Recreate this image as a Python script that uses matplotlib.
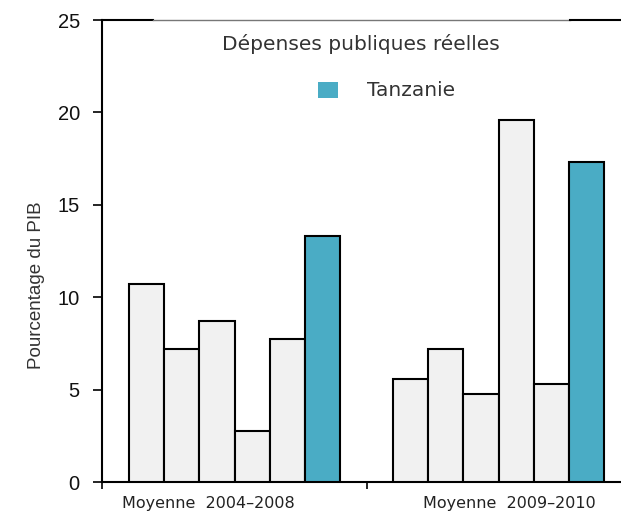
import matplotlib
matplotlib.use("Agg")
import matplotlib.pyplot as plt
from matplotlib.patches import Rectangle
from matplotlib import font_manager

group_labels = ["Moyenne  2004–2008", "Moyenne  2009–2010"]
values_2004_2008 = [10.7, 7.2, 8.7, 2.75, 7.75, 13.3]
values_2009_2010 = [5.6, 7.2, 4.75, 19.6, 5.3, 17.3]
highlight_index = 5  # Tanzanie
title_text = "Dépenses publiques réelles"
legend_label = "Tanzanie"
y_label = "Pourcentage du PIB"
y_ticks = [0, 5, 10, 15, 20, 25]

names = {f.name for f in font_manager.fontManager.ttflist}
tick_font = "Liberation Sans Narrow" if "Liberation Sans Narrow" in names else "Liberation Sans"
tick_size = 17 if tick_font == "Liberation Sans Narrow" else 14.5

grey = "#f1f1f1"
teal = "#4aacc5"

fig = plt.figure(figsize=(6.21, 5.14), dpi=100)
W, H = 621, 514
ax = fig.add_axes([102 / W, (H - 482) / H, (W - 102) / W, (482 - 20) / H])

pos1 = [i for i in range(len(values_2004_2008))]
pos2 = [7.5 + i for i in range(len(values_2009_2010))]
for pos, vals in ((pos1, values_2004_2008), (pos2, values_2009_2010)):
    colors = [teal if i == highlight_index else grey for i in range(len(vals))]
    ax.bar(pos, vals, width=1.0, color=colors, edgecolor="black", linewidth=1.5, zorder=3)

ax.set_xlim(-1.27, 13.48)
ax.set_ylim(0, 25)
ax.set_yticks(y_ticks)
ax.set_yticklabels([str(t) for t in y_ticks], fontfamily=tick_font, fontsize=tick_size, color="#111111")
ax.tick_params(axis="y", direction="out", length=6.5, width=1.2, pad=9.5)

mid = (pos1[-1] + pos2[0]) / 2
ax.set_xticks([-1.27, mid])
ax.set_xticklabels([])
ax.tick_params(axis="x", direction="out", length=5, width=1.2)

c1 = sum(pos1) / len(pos1)
c2 = sum(pos2) / len(pos2)
for c, lab in zip((c1 - 0.75, c2 + 0.3), group_labels):
    ax.text(c, -0.75, lab, ha="center", va="top", fontsize=11.5, fontfamily="DejaVu Sans", color="#222222")

for side in ("right", "top"):
    ax.spines[side].set_visible(False)
ax.spines["left"].set_linewidth(1.5)
ax.spines["bottom"].set_linewidth(1.5)

# top border: dark - grey - dark
ax.plot([0, (153 - 102) / (W - 102)], [1, 1], transform=ax.transAxes, color="black", lw=1.5, clip_on=False)
ax.plot([(153 - 102) / (W - 102), (570 - 102) / (W - 102)], [1, 1], transform=ax.transAxes, color="#777777", lw=1.0, clip_on=False)
ax.plot([(570 - 102) / (W - 102), 1], [1, 1], transform=ax.transAxes, color="black", lw=1.5, clip_on=False)

fig.text(37 / W, 1 - 285 / H, y_label, rotation=90, ha="center", va="center",
         fontfamily="Liberation Sans", fontsize=13.5, color="#333333")

fig.text(361 / W, 1 - 44 / H, title_text, ha="center", va="center", fontsize=14.5,
         fontfamily="DejaVu Sans", color="#333333")
fig.patches.append(Rectangle((318 / W, 1 - 98 / H), 20 / W, 16 / H, transform=fig.transFigure,
                             facecolor=teal, edgecolor="none"))
fig.text(367 / W, 1 - 90 / H, legend_label, ha="left", va="center", fontsize=14.5,
         fontfamily="DejaVu Sans", color="#333333")

fig.savefig("out.png", dpi=100)
